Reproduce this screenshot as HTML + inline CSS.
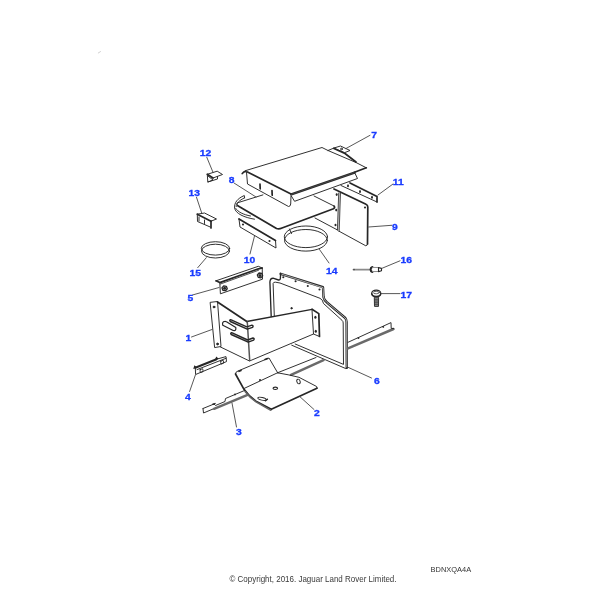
<!DOCTYPE html>
<html><head><meta charset="utf-8">
<style>
.t{stroke-width:1.7}
html,body{margin:0;padding:0;background:#fff;width:600px;height:600px;overflow:hidden}
svg{position:absolute;left:0;top:0;will-change:transform}
.l{font-family:"Liberation Sans",sans-serif;font-weight:bold;font-size:9px;fill:#1a3cff;stroke:#1a3cff;stroke-width:0.3px}
.c{font-family:"Liberation Sans",sans-serif;font-size:8.4px;fill:#3a3a3a}
</style></head><body>
<svg width="600" height="600" viewBox="0 0 600 600">
<g fill="none" stroke="#262626" stroke-width="0.95" stroke-linejoin="round" stroke-linecap="round">

<path stroke="#d0d0d0" stroke-width="1" d="M98.3 53L100.5 51.6"/>
<!-- part 12 -->
<path d="M207.3 174.3L217.2 171.2L222.5 174.5L213 178"/><path class="t" d="M207.3 174.3L213 178"/>
<path d="M207.3 174.3L207.8 182L217.5 179L217.5 176.5" />
<path d="M208 176L213 180L208 182"/>
<!-- part 13 -->
<path d="M197.3 214.2L204.5 213L216.5 219L211 221.2"/><path class="t" d="M197.3 214.2L211 221.2"/>
<path d="M197.3 214.2L197.5 221.5L210.2 227"/>
<path class="t" d="M211 221.2L211 228"/>
<path d="M204.5 220L204.5 223.5"/>
<path d="M199 217L199 221"/>

<!-- part 7 cover -->
<path stroke-width="1.7" d="M242.2 173.6Q243.5 171.6 246 171.3"/>
<path d="M245 170.8L322 147.5L328 150.5L356 162.5L366.3 167.8"/><path class="t" d="M366.3 167.8L354.5 172.3"/>
<path class="t" d="M334 148.5L345 153.5L356 162"/>
<path d="M334 148L340.5 146L350 150.5L345 152.5Z M328 150.5L334 148"/>
<circle cx="341.5" cy="149" r="0.9"/>
<path class="t" d="M247.5 172L291 194"/><path stroke-width="2.3" d="M291.3 194.4L354.5 172.6"/><path stroke="#777" stroke-width="0.35" d="M291.3 194.4L354.5 172.6"/>
<path d="M246.5 172L247.5 184L288.5 206.5Q290.5 206.5 290.7 204L291 195.5L294.6 201.3L357.5 178.5L354.5 172.3"/>
<path stroke-width="1.7" d="M260 184.2L260.2 188.8M272 190.5L272.2 195.2"/>
<!-- part 8 plate -->
<path d="M262.9 194.9L237.5 202.8Q236 203.5 237.8 205.8"/>
<path class="t" d="M237.8 205.8L276.5 228.5Q279 229.5 282 228L333.5 208.8Q335.5 207.5 334 206"/>
<path d="M314 196L334 206"/>
<path d="M244.6 197.8L244.3 195.5C237.5 198.5 234.2 202.5 234.6 208C235.5 213.5 244 217.5 254.5 219.2"/>
<path d="M244.6 197.8C239 200.5 236 203.5 236.2 206.5"/>
<path d="M235.8 208.5C238 212 243 214.5 250.5 216"/>
<!-- part 10 -->
<path class="t" d="M239 219L275.5 240.5"/>
<path d="M275.5 240.5L276 248L240 227L239 219"/>
<circle cx="243" cy="224.5" r="1.05" fill="#262626" stroke="none"/><circle cx="269.5" cy="241" r="1.05" fill="#262626" stroke="none"/>
<!-- part 11 -->
<path class="t" d="M350 183L377 196.5L377 202"/>
<path d="M377 202L341 185.5"/>
<ellipse cx="348" cy="185.7" rx="0.95" ry="1.5" fill="#262626" stroke="none"/><ellipse cx="360" cy="191.5" rx="0.95" ry="1.5" fill="#262626" stroke="none"/><ellipse cx="372" cy="197.2" rx="0.95" ry="1.5" fill="#262626" stroke="none"/>
<!-- part 9 -->
<path class="t" d="M334 189L366 204.2Q367.8 205 367.8 207L367.5 244"/>
<path d="M367.5 244Q367 246 365.8 245.8L338.3 230.8"/>
<path fill="#c4c4c4" stroke="none" d="M338.7 193L337.4 230L339.2 231.2L340.5 193Z"/><path stroke-width="0.8" d="M338.7 193L337.4 230M340.5 193L339.2 231.2"/>
<ellipse cx="336.7" cy="194.6" rx="1" ry="1.3" fill="#262626" stroke="none"/><ellipse cx="336.2" cy="210.1" rx="1" ry="1.3" fill="#262626" stroke="none"/><ellipse cx="335.5" cy="225" rx="1" ry="1.3" fill="#262626" stroke="none"/><circle cx="365" cy="207.5" r="1.05" fill="#262626" stroke="none"/>
<path d="M315 218L337.5 230"/>

<!-- part 5 -->
<path d="M216 280.8L258.3 266.3L262.2 268"/>
<path class="t" d="M216 280.8L219.8 282.6L258.5 268.8L262.2 268"/>
<path stroke-width="0.8" d="M220.5 284L258.5 270.3"/>
<path d="M219.8 282.6L220.4 293.8L262.5 279.2L262.2 268"/>
<path stroke-width="1.3" d="M227.26 288.75L225.52 290.71L222.86 290.26L221.94 287.85L223.68 285.89L226.34 286.34Z"/><circle cx="224.6" cy="288.3" r="1.5" fill="#262626" stroke="none"/>
<path stroke-width="1.3" d="M262.66 275.85L260.92 277.81L258.26 277.36L257.34 274.95L259.08 272.99L261.74 273.44Z"/><circle cx="260" cy="275.4" r="1.5" fill="#262626" stroke="none"/>
<!-- part 1 -->
<path d="M210.5 302.3L217.5 301.5L221 346.5L215 347.5Z"/>
<circle cx="214" cy="307" r="0.9" fill="#1c1c1c"/><circle cx="217.5" cy="344" r="0.9" fill="#1c1c1c"/>
<path class="t" d="M217.5 302L246.8 321.5"/>
<path stroke-width="1.35" d="M246.8 321.5L312 309.3"/><path class="t" d="M312 309.3L318.8 313.6L319.5 336.5"/><path d="M319.5 336.5L313.5 334L312 309.8"/>
<ellipse cx="315.4" cy="317.2" rx="1.1" ry="1.5" fill="#262626" stroke="none"/><ellipse cx="315.8" cy="331.3" rx="1.1" ry="1.5" fill="#262626" stroke="none"/>
<path d="M220.5 347L249.5 361L313.5 334"/><path stroke="#555" stroke-width="1.5" d="M247.3 322L249.7 360.5"/>
<path stroke-width="1.4" d="M230.6 319.6L246.8 326.9L252 325.2Q253.8 325.5 252.6 327.3L247.2 329.1L230.3 321.5Q229 320.3 230.6 319.6Z"/>
<path stroke-width="1.4" d="M231.6 332.6L247.7 340L253 338Q255 338.3 253.6 340.2L248.2 342.2L231.2 334.5Q230 333.3 231.6 332.6Z"/>
<path stroke-width="1.2" d="M224.8 321.3Q221.8 321.6 222.8 325.3L233.2 330.5Q236.4 331.3 235.8 327.6L226.5 321.8Q225.6 321.2 224.8 321.3Z"/>
<!-- part 6 -->
<path stroke-width="1.35" d="M271.2 316.5L269.9 282Q270.2 278.2 273 278.2L278.5 280Q280.3 280.2 280.4 278L280.6 273.5"/><path stroke-width="2.4" d="M280.6 273.8L323 287.2L323.5 297Q324 300 327 302.5L345.3 318Q346.6 319.5 346.6 322L346.8 367.8"/><path stroke="#fff" stroke-width="0.6" d="M281.8 274.2L323 287.6L323.5 297Q324 300 327 302.5L345.3 318Q346.6 319.5 346.6 322L346.8 367"/>
<path d="M346.8 368.3L345.8 368.6L291.7 345.2"/><path d="M274.3 316L273.1 283.5Q273.3 282 275.5 282.2L280 283L320 298.3Q322.8 299.5 323.5 303.5L342 320.3Q343.2 321.3 343.2 323L343.5 364.4L295.2 344"/>

<circle cx="283.3" cy="277.3" r="1.05" fill="#262626" stroke="none"/><circle cx="295.6" cy="281.3" r="1.05" fill="#262626" stroke="none"/><circle cx="307.8" cy="286" r="1.05" fill="#262626" stroke="none"/><circle cx="319.5" cy="289.5" r="1.05" fill="#262626" stroke="none"/>
<circle cx="291.5" cy="308.2" r="0.7" fill="#1c1c1c"/>
<!-- rail 3 -->
<path d="M203 408.5L214 404L215.5 405.5L225 401.5L225.5 398.5L244.5 390.5"/><circle cx="235" cy="394.4" r="0.9" fill="#262626" stroke="none"/><path stroke-width="1.5" d="M213 404.3L215 403.6"/>
<path d="M203 408.5L203.5 413L213 409"/>
<path stroke="#6a6a6a" stroke-width="2.5" d="M214 408.8L247 395.2M291 374.8L323.5 360.2M348 348.4L393.5 329"/>
<path d="M277.5 372.8L316 357.5M348 342.3L391 322.6L391.2 328.4L393.5 328.5"/>
<circle cx="358.5" cy="338" r="0.9" fill="#262626" stroke="none"/><circle cx="383.3" cy="326.9" r="0.9" fill="#262626" stroke="none"/>
<!-- tray 2 -->
<path d="M244 388.5L277.5 372.8Q288 374.5 299 377.3L316.6 386.5L317 388.2"/>
<path d="M235.5 374Q235.5 371.5 238 371L269 358L277.8 373"/><path stroke-width="1.6" d="M239 371.3L241 370.5M265 359.5L267.5 358.5"/>
<path class="t" d="M317 388.2L271.3 409.3L256 401.2Q249 396.5 244 389.3L235.5 374"/>
<path stroke="#666" stroke-width="1.4" d="M245 391.5Q250 398 256 401.8L270.8 410.3"/>
<ellipse cx="298.5" cy="381.5" rx="1.6" ry="2.4" transform="rotate(-20 298.5 381.5)"/>
<ellipse cx="275.3" cy="388.3" rx="2.3" ry="1.2" stroke-width="1.1"/><circle cx="260" cy="380" r="1" fill="#262626" stroke="none"/>
<ellipse cx="262" cy="398.8" rx="4.3" ry="1.35" transform="rotate(12 262 398.8)"/><path stroke-width="1.5" d="M265.5 400.8L267.4 399.2"/>
<!-- part 4 -->
<path stroke-width="2" d="M195.3 367.8L216.5 359.2"/>
<path d="M216.5 359.2L226 356.6L226.5 361.6L195.6 374.5L195.3 367.8"/>
<path d="M197 369.6L226 358.3"/>
<path stroke-width="0.9" d="M200.2 369.6L202.6 368.7Q203.3 370.5 202.8 371.8L200.4 372.6Q199.8 371 200.2 369.6Z"/>
<path stroke-width="0.9" d="M220.8 361.2L223.2 360.3Q223.9 362 223.4 363.3L221 364.1Q220.4 362.6 220.8 361.2Z"/>
<path fill="#262626" stroke="none" d="M193.2 369L194.4 365.3L197.2 367.6Z M214.8 360.3L216.2 356.5L218.8 358.7Z"/>
<!-- ring 15 -->
<ellipse cx="215.5" cy="248.4" rx="14.2" ry="6.7"/>
<ellipse cx="215.5" cy="251.1" rx="14" ry="6.9"/>
<!-- ring 14 -->
<ellipse cx="305.9" cy="236.8" rx="21.6" ry="10.8"/>
<ellipse cx="305.9" cy="240.3" rx="21.4" ry="10.8"/>
<path d="M289.5 229L291.5 233.5"/>
<!-- rivet 16 -->
<path stroke="#8a8a8a" stroke-width="1.9" d="M353.5 269.6L370 269.6"/><circle cx="354" cy="269.6" r="0.8" fill="#444" stroke="none"/>
<path stroke-width="2.1" d="M372.4 267Q370.6 267.6 370.6 269.5Q370.6 271.4 372.4 272"/>
<path stroke="#8a8a8a" stroke-width="1" d="M372.5 267.4L378.5 267.5M372.5 271.6L378.5 271.5"/>
<path stroke-width="1.1" d="M378.5 267.6L381.5 268.4L381.5 270.8L378.5 271.6Z"/>
<!-- bolt 17 -->
<ellipse cx="376.25" cy="293.25" rx="4.6" ry="3.1" stroke-width="1.1"/>
<path stroke-width="1.5" d="M371.8 293.8Q372.3 296.6 376.25 296.7Q380.2 296.6 380.7 293.8"/>
<ellipse cx="376.25" cy="292.6" rx="3.1" ry="1.2" stroke-width="0.7"/>
<path fill="#8a8a8a" stroke-width="0.9" d="M374.3 297.6L374.5 306.4L378.5 306.4L378.6 297.6Z"/>
<path stroke="#333" stroke-width="0.7" d="M374.5 299.3L378.5 299.3M374.5 301L378.5 301M374.5 302.7L378.5 302.7M374.5 304.4L378.5 304.4"/>
<g stroke="#3a3a3a" stroke-width="0.85"><!-- leaders -->
<path d="M370 135.3L346 148.5"/>
<path d="M206.8 157.3L213 172.3"/>
<path d="M234 183L256 197"/>
<path d="M378 195L393 184"/>
<path d="M196.5 197.3L201.8 213.3"/>
<path d="M368.7 227L391.7 225.3"/>
<path d="M206.3 257.7L197.7 267.7"/>
<path d="M254.5 236L250 254"/>
<path d="M319.5 249.5L329 263"/>
<path d="M382 268.3L400 260.8"/>
<path d="M381.5 293.6L400 293.6"/>
<path d="M192.5 295L219 287.5"/>
<path d="M191.5 337L212 329.5"/>
<path d="M348 367.3L371.5 378"/>
<path d="M195.4 375L189.6 391.5"/>
<path d="M300 396.8L314 409.5"/>
<path d="M232 403L236.5 427"/>
</g></g>
</svg>
<svg width="600" height="600" viewBox="0 0 600 600">
<text class="l" transform="translate(199.7 156.0) scale(1.15 1)">12</text>
<text class="l" transform="translate(371.2 138.0) scale(1.15 1)">7</text>
<text class="l" transform="translate(228.7 183.0) scale(1.15 1)">8</text>
<text class="l" transform="translate(392.7 185.0) scale(1.15 1)">11</text>
<text class="l" transform="translate(188.4 195.7) scale(1.15 1)">13</text>
<text class="l" transform="translate(392.0 229.7) scale(1.15 1)">9</text>
<text class="l" transform="translate(189.4 276.0) scale(1.15 1)">15</text>
<text class="l" transform="translate(243.7 262.6) scale(1.15 1)">10</text>
<text class="l" transform="translate(326.0 273.7) scale(1.15 1)">14</text>
<text class="l" transform="translate(400.5 263.3) scale(1.15 1)">16</text>
<text class="l" transform="translate(400.5 298.3) scale(1.15 1)">17</text>
<text class="l" transform="translate(187.4 300.8) scale(1.15 1)">5</text>
<text class="l" transform="translate(185.5 340.8) scale(1.15 1)">1</text>
<text class="l" transform="translate(374.0 383.7) scale(1.15 1)">6</text>
<text class="l" transform="translate(185.0 400.0) scale(1.15 1)">4</text>
<text class="l" transform="translate(314.0 416.3) scale(1.15 1)">2</text>
<text class="l" transform="translate(236.0 435.3) scale(1.15 1)">3</text>
<text class="c" x="229.5" y="582" textLength="167" lengthAdjust="spacingAndGlyphs">© Copyright, 2016. Jaguar Land Rover Limited.</text>
<text class="c" x="430.6" y="572" style="font-size:8px;fill:#333" textLength="40.5" lengthAdjust="spacingAndGlyphs">BDNXQA4A</text>
</svg>
</body></html>
